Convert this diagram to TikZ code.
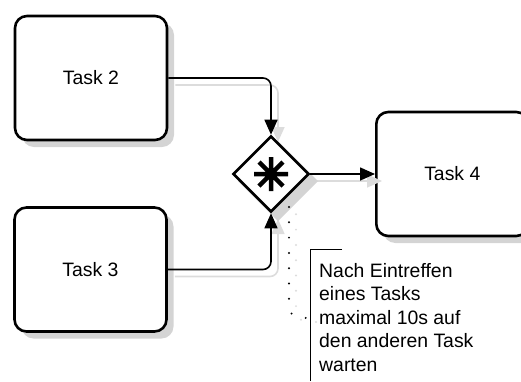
\documentclass[tikz,border=0pt]{standalone}
\usepackage{fontspec}
\setmainfont{Liberation Sans}
\usetikzlibrary{shapes.geometric,arrows.meta,shadows}
\definecolor{shd}{HTML}{D4D4D4}
\definecolor{lshd}{HTML}{DCDCDC}
\begin{document}
\begin{tikzpicture}[x=1pt,y=-1pt,
  lbl/.style={font=\fontsize{19.4}{23.5}\selectfont},
  task/.style={draw, line width=2.6pt, rounded corners=12pt, minimum width=152pt, minimum height=124pt, inner sep=0pt, fill=white, lbl,
    drop shadow={shadow xshift=7pt, shadow yshift=-7pt, fill=shd, opacity=1}},
  gw/.style={diamond, aspect=1, draw, line width=2.6pt, minimum width=76pt, minimum height=76pt, inner sep=0pt, fill=white},
  conn/.style={line width=1.6pt, rounded corners=8pt, -{Triangle[length=15pt,width=13pt]}},
  connshd/.style={conn, draw=lshd, transform canvas={shift={(7pt,-7pt)}}},
  dots/.style={line width=2.2pt, line cap=round, dash pattern=on 0pt off 15.3pt},
  note/.style={align=left, inner sep=0pt, lbl},
  bracket/.style={line width=1pt}]
\useasboundingbox (0,0) rectangle (521,381);
\clip (0,0) rectangle (521,381);
% nodes
\node[task] (t2) at (91,78) {Task 2};
\node[task] (t3) at (90.5,269.5) {Task 3};
\node[task] (t4) at (452.3,174) {Task 4};
% connector shadows
\draw[connshd] (t2.east) -| (271,135);
\draw[connshd] (t3.east) -| (271,212);
\draw[connshd] (310,174) -- (375,174);
% annotation coordinates
\coordinate (ds) at (289,195);
\coordinate (de) at (310,318);
\coordinate (b1) at (310,249);
\coordinate (b2) at (342,249);
\coordinate (b3) at (310,381);
% dotted shadow
\draw[dots, draw=lshd, dash phase=2pt] (296,201) -- (296,310) .. controls (297,321) and (303,322) .. (316,322);
% gateway shadow and gateway
\fill[shd] (278,141) -- (318,181) -- (278,221) -- (238,181) -- cycle;
\node[gw] (g) at (271,174) {};
\draw[line width=4.5pt, shift={(g.center)}] (-17,0) -- (17,0) (0,-17) -- (0,17) (-12,-12) -- (12,12) (-12,12) -- (12,-12);
% connectors
\draw[conn] (t2.east) -| (g.north);
\draw[conn] (t3.east) -| (g.south);
\draw[conn] (g.east) -- (t4.west);
% dotted association
\draw[dots, dash phase=3.3pt] (ds) -- (289,306) .. controls (290,317) and (296,318) .. (de);
% annotation
\draw[bracket] (b2) -- (b1) -- (b3);
\node[note, anchor=north west] (n) at (319,263) {Nach Eintreffen\\eines Tasks\\maximal 10s auf\\den anderen Task\\warten};
\end{tikzpicture}
\end{document}
